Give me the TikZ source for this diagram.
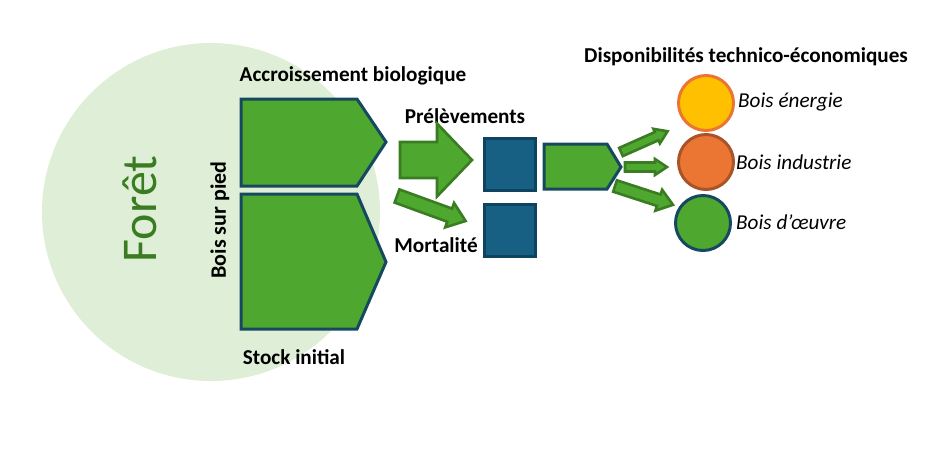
\documentclass[tikz,border=0pt]{standalone}
\usepackage{fontspec}
\setmainfont{Carlito}
\definecolor{lgreen}{HTML}{DFEED7}
\definecolor{bgreen}{HTML}{4EA72E}
\definecolor{dgreen}{HTML}{3A7C22}
\definecolor{dblue}{HTML}{16495F}
\definecolor{sqblue}{HTML}{176083}
\definecolor{sqedge}{HTML}{0E4460}
\definecolor{gold}{HTML}{FFC000}
\definecolor{orng}{HTML}{EB7533}
\definecolor{orngedge}{HTML}{A9532A}
\tikzset{
  pent/.style={fill=bgreen, draw=dblue, line width=3pt, line join=miter},
  sq/.style={rectangle, fill=sqblue, draw=sqedge, line width=3pt, minimum width=51pt, minimum height=52pt, inner sep=0pt},
  blk/.style={fill=bgreen, draw=dgreen, line width=2.6pt, line join=miter},
  disc/.style={circle, line width=3pt, minimum size=55pt, inner sep=0pt},
  lbl/.style={font=\fontsize{21.2}{23}\selectfont\bfseries, inner sep=0pt},
  itl/.style={font=\fontsize{21.2}{23}\selectfont\itshape, inner sep=0pt, anchor=west},
}
\newcommand\blkarrow[7]{\draw[blk, shift={(#1,#2)}, rotate=#3] (0,-#5) -- (#4-#7,-#5) -- (#4-#7,-#6) -- (#4,0) -- (#4-#7,#6) -- (#4-#7,#5) -- (0,#5) -- cycle;}
\begin{document}
\begin{tikzpicture}[x=1pt,y=-1pt]
\useasboundingbox (0,0) rectangle (952,456);
% forest
\fill[lgreen] (211,212) circle (169);
\node[rotate=90, text=dgreen, font=\fontsize{50}{50}\selectfont, inner sep=0pt] (foret) at (140,209) {Forêt};
% pentagons
\draw[pent] (241,99) -- (357,99) -- (386,142) -- (357,186) -- (241,186) -- cycle;
\draw[pent] (241,194) -- (357,194) -- (386,262) -- (357,329) -- (241,329) -- cycle;
\node[lbl, rotate=90, font=\fontsize{22}{24}\selectfont\bfseries] (pied) at (220,220) {Bois sur pied};
\node[lbl] (accr) at (353,76) {Accroissement biologique};
\node[lbl] (stock) at (294,357) {Stock initial};
\node[lbl] (prel) at (465,116) {Prélèvements};
\node[lbl] (mort) at (436,245) {Mortalité};
% arrows
\blkarrow{400}{160}{0}{72}{18}{36.5}{35}
\blkarrow{397}{196}{-20}{73}{7}{13}{17}
% squares
\node[sq] (s1) at (510,164) {};
\node[sq] (s2) at (510,230) {};
% small pentagon
\draw[pent] (544,144) -- (607,144) -- (621,167) -- (607,189) -- (544,189) -- cycle;
% three arrows
\blkarrow{621}{152}{24}{51}{4.5}{8}{12}
\blkarrow{625}{167}{0}{42}{4.5}{8}{12}
\blkarrow{615}{186}{-18}{61}{6}{11}{15}
% circles
\node[disc, fill=gold, draw=orng] (c1) at (706,103) {};
\node[disc, fill=orng, draw=orngedge] (c2) at (706,162) {};
\node[disc, fill=bgreen, draw=dblue] (c3) at (703,223) {};
\node[itl] (t1) at (738,102) {Bois énergie};
\node[itl] (t2) at (736,162) {Bois industrie};
\node[itl] (t3) at (736,222) {Bois d’œuvre};
\node[lbl] (title) at (746,57) {Disponibilités technico-économiques};
\end{tikzpicture}
\end{document}
